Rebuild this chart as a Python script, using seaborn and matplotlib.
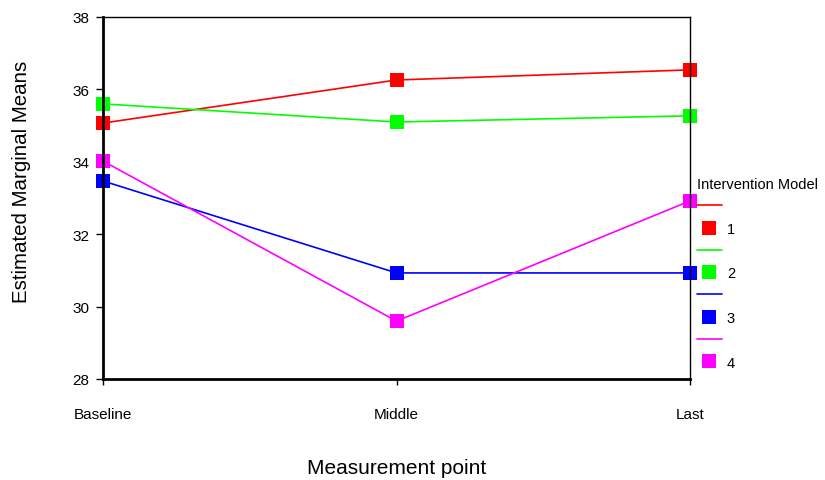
import matplotlib
matplotlib.use("Agg")
import matplotlib.pyplot as plt
from matplotlib.lines import Line2D
import seaborn as sns
import pandas as pd

points = ["Baseline", "Middle", "Last"]
groups = ["1", "2", "3", "4"]
model1 = [35.07, 36.26, 36.54]
model2 = [35.60, 35.10, 35.27]
model3 = [33.47, 30.93, 30.93]
model4 = [34.02, 29.60, 32.92]
colors = ["#ff0000", "#00ff00", "#0000ff", "#ff00ff"]
yticks = [28, 30, 32, 34, 36, 38]

rows = []
for g, vals in zip(groups, [model1, model2, model3, model4]):
    for p, v in zip(points, vals):
        rows.append({"Measurement point": p, "mean": v, "Intervention Model": g})
df = pd.DataFrame(rows)

sns.set_theme(style="white")
plt.rcParams["font.family"] = ["Liberation Sans", "DejaVu Sans"]

fig = plt.figure(figsize=(8.25, 4.81), dpi=100)
ax = fig.add_axes([103/825, 1-380/481, (690-103)/825, (380-18)/481])

palette = dict(zip(groups, colors))
sns.lineplot(data=df, x="Measurement point", y="mean", hue="Intervention Model",
             palette=palette, marker="s", markersize=10, markeredgewidth=0,
             linewidth=1.2, sort=False, ax=ax, legend=False)

ax.set_xlim(0, 2)
ax.set_ylim(28, 38)
ax.set_yticks(yticks)
ax.set_xticks(range(len(points)))
ax.set_xticklabels(points)
ax.tick_params(axis="y", direction="out", length=5, width=1, pad=5, labelsize=11, left=True, color="black")
ax.tick_params(axis="x", direction="out", length=4, width=1, pad=16, labelsize=11, bottom=True, color="black")
for lbl in ax.get_yticklabels() + ax.get_xticklabels():
    lbl.set_color("black")
for s in ["left", "bottom"]:
    ax.spines[s].set_linewidth(2)
    ax.spines[s].set_color("black")
for s in ["top", "right"]:
    ax.spines[s].set_linewidth(1)
    ax.spines[s].set_color("black")
for ln in ax.lines:
    ln.set_clip_on(False)

ax.set_ylabel("Estimated Marginal Means", fontsize=14.8, color="black", va="center")
ax.yaxis.set_label_coords((22-103)/587, (380-182)/362)
ax.set_xlabel("Measurement point", fontsize=15, color="black", va="center")
ax.xaxis.set_label_coords(0.5, (380-469)/362)

handles, labels = [], []
for g, c in zip(groups, colors):
    handles.append(Line2D([], [], color=c, linewidth=1.2))
    labels.append("")
    handles.append(Line2D([], [], color=c, linestyle="none", marker="s", markersize=9.5, markeredgewidth=0))
    labels.append(g)
leg = fig.legend(handles, labels, title="Intervention Model", loc="upper left",
                 bbox_to_anchor=(697/825, 1-178/481), frameon=False, fontsize=10.5,
                 title_fontsize=10.5, handlelength=1.7, handletextpad=0.35,
                 labelspacing=0.57, borderaxespad=0, borderpad=0)
leg._legend_box.align = "left"
for t in leg.get_texts():
    t.set_color("black")
leg.get_title().set_color("black")

fig.savefig("out.png", dpi=100)
